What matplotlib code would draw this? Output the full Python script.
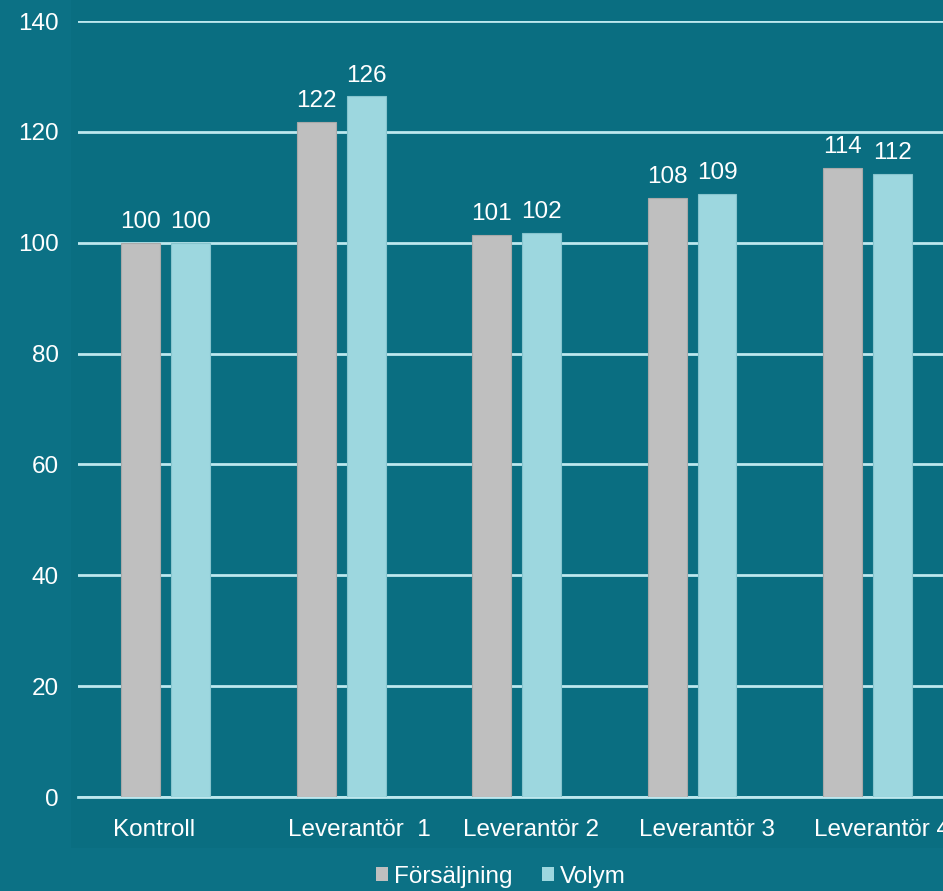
import matplotlib
matplotlib.use("Agg")
import matplotlib.pyplot as plt
import numpy as np

categories = ["Kontroll", "Leverantör  1", "Leverantör 2", "Leverantör 3", "Leverantör 4"]
forsaljning = [100.0, 121.8, 101.4, 108.1, 113.5]
volym = [100.0, 126.4, 101.8, 108.8, 112.4]
series_names = ["Försäljning", "Volym"]
yticks = [0, 20, 40, 60, 80, 100, 120, 140]

BG = "#0c7185"
AREA = "#0a6e81"
GRAY = "#bfbfbf"
LIGHT = "#9dd7df"
GRID = "#bde8ee"
FS = 17.5

plt.rcParams["font.family"] = ["Liberation Sans", "DejaVu Sans"]

fig = plt.figure(figsize=(9.43, 8.91), dpi=100)
fig.patch.set_facecolor(BG)

# slightly darker panel behind the plot
panel = fig.add_axes([71 / 943, 1 - 848 / 891, 1 - 71 / 943, 848 / 891], zorder=0)
panel.set_axis_off()
panel.add_patch(plt.Rectangle((0, 0), 1, 1, transform=panel.transAxes,
                              facecolor=AREA, edgecolor="none"))

ax = fig.add_axes([78 / 943, 1 - 797 / 891, 1 - 78 / 943, (797 - 21) / 891], zorder=1)
ax.set_facecolor("none")

x = np.arange(len(categories))
w = 0.222
off = 0.142
b1 = ax.bar(x - off, forsaljning, w, color=GRAY, edgecolor="#a9a9a9", linewidth=0.8, zorder=3,
            label=series_names[0])
b2 = ax.bar(x + off, volym, w, color=LIGHT, edgecolor="#86c4cd", linewidth=0.8, zorder=3,
            label=series_names[1])

for bars in (b1, b2):
    for r in bars:
        h = r.get_height()
        ax.annotate(f"{h:.0f}", (r.get_x() + r.get_width() / 2, h),
                    xytext=(0, 7), textcoords="offset points",
                    ha="center", va="bottom", fontsize=FS, color="white", zorder=4)

ax.set_ylim(0, 140)
ax.set_xlim(-0.5, 4.43)
ax.set_yticks(yticks)
ax.set_yticklabels([str(t) for t in yticks])
# category labels start just left of each group's first bar
ax.set_xticks(x - off - w / 2 - 0.05)
ax.set_xticklabels(categories, ha="left")
ax.tick_params(axis="y", length=0, pad=14, labelsize=FS, labelcolor="white")
ax.tick_params(axis="x", length=0, pad=16, labelsize=FS, labelcolor="white")
ax.yaxis.grid(True, color=GRID, linewidth=2, zorder=1)
ax.set_axisbelow(True)
for s in ["top", "right", "left"]:
    ax.spines[s].set_visible(False)
ax.spines["bottom"].set_color(GRID)
ax.spines["bottom"].set_linewidth(2)
ax.spines["bottom"].set_zorder(2)

leg = fig.legend(handles=[b1, b2], labels=series_names, loc="center",
                 bbox_to_anchor=(0.531, 1 - 877 / 891), ncol=2, frameon=False,
                 fontsize=FS, labelcolor="white", handlelength=0.5, handleheight=0.5,
                 handletextpad=0.25, columnspacing=1.2, borderpad=0)
for h in leg.legend_handles:
    h.set_edgecolor("none")

fig.savefig("out.png", dpi=100, facecolor=BG)
